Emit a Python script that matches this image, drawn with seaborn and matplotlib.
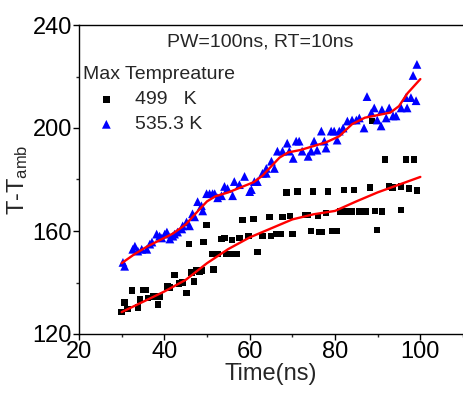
import matplotlib
matplotlib.use("Agg")
import matplotlib.pyplot as plt
from matplotlib.ticker import MultipleLocator
import seaborn as sns
import pandas as pd

# ---- data ----
black_x = [30.0, 30.7, 31.4, 32.4, 33.8, 34.3, 35.0, 35.6, 36.2, 37.3, 38.5, 38.9, 40.8, 41.3,
           42.4, 43.4, 44.3, 45.2, 45.8, 46.4, 46.9, 47.5, 48.3, 48.7, 49.2, 49.9, 51.3, 51.5,
           52.5, 53.4, 54.1, 54.6, 55.9, 56.0, 56.9, 57.6, 58.3, 59.7, 60.9, 61.8, 63.0, 64.6,
           65.0, 66.2, 67.4, 67.7, 68.6, 69.5, 70.0, 71.2, 73.0, 73.5, 74.4, 74.9, 76.0, 76.3,
           77.0, 77.9, 78.4, 79.3, 80.5, 81.2, 82.1, 82.6, 84.0, 84.5, 85.7, 87.3, 88.2, 88.7,
           89.4, 89.9, 91.0, 91.7, 92.7, 93.5, 95.5, 95.5, 96.6, 97.3, 98.5, 99.2]
black_y = [128.6, 132.2, 129.8, 136.9, 130.2, 133.3, 137.0, 137.0, 134.0, 134.5, 131.4, 134.5, 138.4, 138.0,
           143.0, 139.6, 140.0, 136.0, 155.0, 143.9, 140.4, 144.7, 144.3, 144.7, 155.7, 162.3, 151.0, 145.0,
           151.0, 156.9, 157.3, 151.0, 156.5, 151.0, 151.0, 157.3, 164.3, 158.0, 164.7, 151.8, 158.0, 165.5,
           158.0, 158.8, 158.8, 165.5, 174.9, 165.9, 158.8, 175.3, 166.3, 166.3, 160.0, 175.3, 165.9, 159.6,
           159.6, 167.0, 175.3, 160.0, 160.0, 167.5, 176.0, 167.5, 167.5, 176.0, 167.5, 167.5, 176.8, 202.7,
           167.8, 160.4, 167.5, 187.8, 177.3, 176.8, 168.2, 177.3, 187.8, 176.5, 187.8, 175.7]

blue_x = [30.3, 30.7, 32.6, 33.1, 33.8, 34.7, 35.9, 36.6, 37.1, 38.2, 38.9, 39.4, 40.1, 40.6,
          41.3, 42.0, 42.4, 43.1, 44.1, 44.3, 45.2, 45.9, 46.6, 47.1, 47.8, 48.7, 49.0, 49.9,
          50.6, 51.3, 51.8, 52.5, 53.4, 54.1, 54.8, 56.0, 56.4, 57.6, 58.8, 60.0, 60.4, 61.1,
          61.8, 63.0, 63.9, 63.9, 65.1, 65.8, 66.5, 67.7, 68.8, 69.3, 70.2, 70.9, 71.6, 72.3,
          73.7, 74.4, 75.1, 75.8, 76.8, 77.5, 77.9, 79.1, 79.8, 80.5, 81.0, 81.9, 82.9, 84.0,
          85.0, 85.7, 86.8, 87.5, 88.5, 89.2, 89.9, 90.8, 91.0, 92.0, 92.7, 93.6, 94.3, 95.5,
          96.6, 96.9, 97.8, 99.0, 98.3, 99.2]
blue_y = [147.8, 146.3, 152.9, 154.1, 152.2, 152.9, 152.9, 154.9, 155.7, 158.8, 158.0, 157.3, 158.8, 159.6,
          156.9, 158.0, 158.8, 159.6, 160.8, 162.0, 163.5, 162.0, 166.7, 165.5, 171.4, 169.8, 167.8, 174.5,
          174.5, 174.5, 174.5, 172.9, 173.7, 177.3, 176.5, 173.7, 179.2, 178.0, 181.2, 175.3, 176.1, 179.2,
          179.2, 182.4, 184.3, 182.4, 187.1, 184.3, 191.0, 191.0, 194.1, 191.0, 188.2, 194.9, 194.9, 191.0,
          189.0, 191.0, 194.9, 191.4, 198.8, 194.9, 192.2, 198.8, 198.8, 195.3, 198.8, 200.0, 202.7, 203.1,
          203.1, 203.9, 200.0, 212.2, 205.9, 207.8, 203.1, 200.8, 207.1, 203.9, 207.8, 204.7, 204.7, 207.8,
          211.8, 207.8, 211.8, 210.6, 220.4, 224.7]

# fitted curves (red)
fit_black_x = [30, 35, 40, 45, 50, 55, 60, 65, 70, 75, 80, 85, 90, 95, 100]
fit_black_y = [128.5, 132.5, 136.5, 141.0, 147.5, 153.0, 157.5, 161.0, 164.5, 166.5, 167.8, 171.5, 175.0, 178.0, 181.0]
fit_blue_x = [30, 33, 36, 39, 42, 45, 48, 50, 52, 55, 58, 61, 63, 65, 67, 69, 72, 75, 78, 81, 84, 87, 90, 93, 95, 97, 100]
fit_blue_y = [147.5, 151.0, 154.0, 156.5, 159.0, 162.5, 168.0, 171.5, 173.5, 175.0, 177.0, 179.0, 181.5, 185.0,
              188.5, 190.5, 191.5, 193.0, 194.5, 196.8, 201.5, 204.0, 205.0, 206.0, 208.5, 213.5, 219.0]

labels = ["499   K", "535.3 K"]
title_text = "PW=100ns, RT=10ns"
legend_title = "Max Tempreature"

# ---- plotting ----
sns.set_style("ticks")
plt.rcParams["font.family"] = ["Liberation Sans", "DejaVu Sans"]
plt.rcParams["mathtext.default"] = "regular"

fig = plt.figure(figsize=(4.63, 4.0), dpi=100)
ax = fig.add_axes([79 / 463, 1 - 334 / 400, 1 - 79 / 463, (334 - 25) / 400])

df_b = pd.DataFrame({"x": black_x, "y": black_y})
df_u = pd.DataFrame({"x": blue_x, "y": blue_y})
df_fb = pd.DataFrame({"x": fit_black_x, "y": fit_black_y})
df_fu = pd.DataFrame({"x": fit_blue_x, "y": fit_blue_y})

sns.scatterplot(data=df_b, x="x", y="y", ax=ax, marker="s", s=22, color="black",
                edgecolor="none", label=labels[0], zorder=3)
sns.scatterplot(data=df_u, x="x", y="y", ax=ax, marker="^", s=40, color="#0000ff",
                edgecolor="none", label=labels[1], zorder=3)
sns.lineplot(data=df_fb, x="x", y="y", ax=ax, color="red", lw=1.7, zorder=4, legend=False)
sns.lineplot(data=df_fu, x="x", y="y", ax=ax, color="red", lw=1.7, zorder=4, legend=False)

ax.set_xlim(20, 110)
ax.set_ylim(120, 240)
ax.xaxis.set_major_locator(MultipleLocator(20))
ax.xaxis.set_minor_locator(MultipleLocator(10))
ax.yaxis.set_major_locator(MultipleLocator(40))
ax.yaxis.set_minor_locator(MultipleLocator(20))
ax.tick_params(which="major", direction="out", length=4, width=1, labelsize=17, colors="black", pad=1)
ax.tick_params(which="minor", direction="out", length=2.5, width=1)
ax.tick_params(top=False, right=False, which="both")

for side in ["left", "bottom", "top"]:
    ax.spines[side].set_linewidth(1.0)
    ax.spines[side].set_color("black")
ax.spines["right"].set_visible(False)

ax.set_xlabel("Time(ns)", fontsize=17, labelpad=0)
ax.set_ylabel("T-T$_{amb}$", fontsize=17, labelpad=2)

ax.text(0.471, 0.945, title_text, transform=ax.transAxes, ha="center", va="center", fontsize=14)

leg = ax.legend(loc="upper left", bbox_to_anchor=(-0.025, 0.91), frameon=False, fontsize=14,
                title=legend_title, title_fontsize=14, alignment="left", handletextpad=0.25,
                labelspacing=0.38, borderpad=0.2, markerscale=1.0, handlelength=2.4)

fig.savefig("out.png", dpi=100)
